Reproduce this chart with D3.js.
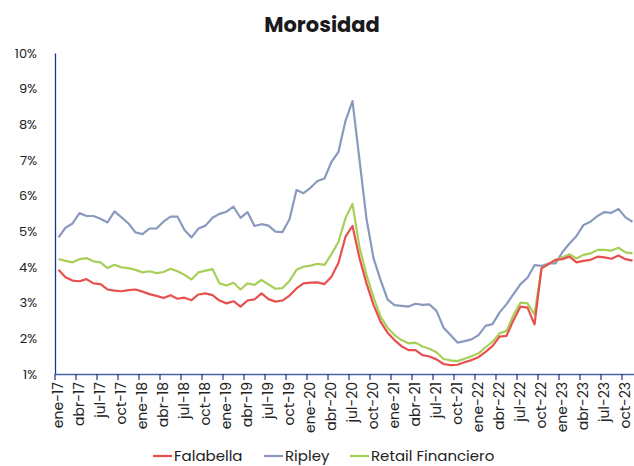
<!DOCTYPE html>
<html lang="es">
<head>
  <meta charset="UTF-8">
  <title>Morosidad</title>
  <script src="https://d3js.org/d3.v7.min.js"></script>
  <style>
    body {
      margin: 0;
      background: #fff;
      font-family: "Poppins", "Open Sans", sans-serif;
    }
    svg { display: block; }
    .line { fill: none; stroke-width: 2.2; stroke-linejoin: round; }
  </style>
</head>
<body>
  <svg id="chart"></svg>
  <script>
    const monthNames = ["ene", "feb", "mar", "abr", "may", "jun", "jul", "ago", "sep", "oct", "nov", "dic"];
    const years = ["17", "18", "19", "20", "21", "22", "23"];
    // ene-17 .. nov-23
    const months = years.flatMap(y => monthNames.map(m => `${m}-${y}`)).slice(0, 83);

    const falabella = [
      3.92, 3.71, 3.62, 3.60, 3.66, 3.54, 3.52, 3.37, 3.34, 3.32, 3.35, 3.37, 3.31, 3.24, 3.19, 3.13, 3.21, 3.11, 3.14, 3.07, 3.23, 3.26,
      3.21, 3.06, 2.98, 3.04, 2.89, 3.06, 3.09, 3.26, 3.10, 3.03, 3.06, 3.20, 3.40, 3.54, 3.56, 3.57, 3.52, 3.73, 4.12, 4.85,
      5.15, 4.25, 3.54, 2.94, 2.47, 2.16, 1.95, 1.78, 1.67, 1.67, 1.53, 1.49, 1.41, 1.28, 1.25, 1.26, 1.33, 1.39, 1.47, 1.62, 1.78,
      2.05, 2.07, 2.51, 2.89, 2.86, 2.39, 3.96, 4.08, 4.20, 4.22, 4.29, 4.13, 4.17, 4.20, 4.29, 4.27, 4.23, 4.32, 4.22, 4.18
    ];
    const ripley = [
      4.83, 5.10, 5.22, 5.51, 5.43, 5.43, 5.35, 5.25, 5.56, 5.39, 5.22, 4.97, 4.92, 5.08, 5.08, 5.27, 5.41, 5.41, 5.04, 4.83, 5.08, 5.16,
      5.38, 5.49, 5.55, 5.69, 5.38, 5.54, 5.15, 5.20, 5.16, 4.99, 4.98, 5.34, 6.16, 6.07, 6.22, 6.41, 6.48, 6.95, 7.23, 8.10,
      8.65, 7.00, 5.35, 4.25, 3.64, 3.09, 2.93, 2.91, 2.89, 2.97, 2.94, 2.95, 2.77, 2.30, 2.09, 1.88, 1.92, 1.97, 2.09, 2.35, 2.40,
      2.72, 2.96, 3.24, 3.52, 3.70, 4.05, 4.03, 4.10, 4.10, 4.42, 4.66, 4.87, 5.18, 5.27, 5.43, 5.54, 5.52, 5.63, 5.39, 5.27
    ];
    const retail = [
      4.22, 4.17, 4.13, 4.22, 4.25, 4.16, 4.13, 3.97, 4.06, 3.99, 3.97, 3.92, 3.85, 3.88, 3.83, 3.86, 3.95, 3.88, 3.78, 3.65, 3.85, 3.90,
      3.94, 3.54, 3.48, 3.56, 3.37, 3.54, 3.50, 3.64, 3.51, 3.39, 3.41, 3.61, 3.92, 4.01, 4.04, 4.09, 4.06, 4.36, 4.71, 5.37,
      5.77, 4.55, 3.78, 3.15, 2.61, 2.30, 2.09, 1.95, 1.86, 1.88, 1.77, 1.71, 1.61, 1.42, 1.38, 1.36, 1.43, 1.50, 1.58, 1.75, 1.90,
      2.14, 2.21, 2.65, 3.00, 2.98, 2.67, 3.96, 4.08, 4.20, 4.27, 4.36, 4.24, 4.34, 4.38, 4.48, 4.48, 4.46, 4.54, 4.41, 4.38
    ];
    const yTicks = [1, 2, 3, 4, 5, 6, 7, 8, 9, 10];

    const series = [
      { name: "Falabella", values: falabella, color: "#e8504e" },
      { name: "Ripley", values: ripley, color: "#8a9abf" },
      { name: "Retail Financiero", values: retail, color: "#a8cf5a" }
    ];

    const width = 634;
    const height = 466;
    const margin = { top: 53, right: -2, bottom: 92, left: 55 };

    const svg = d3.select("#chart")
      .attr("width", width)
      .attr("height", height);

    const x = d3.scaleBand()
      .domain(months)
      .range([margin.left, width - margin.right]);

    const y = d3.scaleLinear()
      .domain([1, 10])
      .range([height - margin.bottom, margin.top]);

    // title
    svg.append("text")
      .attr("x", 322)
      .attr("y", 32)
      .attr("text-anchor", "middle")
      .style("font-size", "21px")
      .style("font-weight", "700")
      .style("fill", "#1a1a1a")
      .text("Morosidad");

    // y axis
    const yAxis = d3.axisLeft(y)
      .tickValues(yTicks)
      .tickSize(0)
      .tickPadding(18)
      .tickFormat(d => `${d}%`);

    const gy = svg.append("g")
      .attr("transform", `translate(${margin.left},0)`)
      .call(yAxis);
    gy.select(".domain").attr("stroke", "#1c3584").attr("stroke-width", 1.3);
    gy.selectAll("text")
      .style("font-size", "13px")
      .style("fill", "#222")
      .style("font-family", "\"Poppins\", \"Open Sans\", sans-serif");

    // x axis: labels at category centers, ticks between categories every 3 months
    const quarterly = months.filter((_, i) => i % 3 === 0);

    const xAxis = d3.axisBottom(x)
      .tickValues(quarterly)
      .tickSize(0)
      .tickPadding(0);

    const gx = svg.append("g")
      .attr("transform", `translate(0,${y(1)})`)
      .call(xAxis);
    gx.select(".domain").attr("stroke", "#4563a6").attr("stroke-width", 1.3);
    gx.selectAll("text")
      .attr("transform", "rotate(-90)")
      .attr("x", -8)
      .attr("y", 0)
      .attr("dy", "0.33em")
      .style("text-anchor", "end")
      .style("font-size", "14px")
      .style("fill", "#222")
      .style("font-family", "\"Poppins\", \"Open Sans\", sans-serif");

    svg.append("g")
      .selectAll("line")
      .data(quarterly)
      .join("line")
      .attr("x1", d => x(d))
      .attr("x2", d => x(d))
      .attr("y1", y(1))
      .attr("y2", y(1) + 6)
      .attr("stroke", "#1c3584")
      .attr("stroke-width", 1.2);

    // lines
    const line = d3.line()
      .x((_, i) => x(months[i]) + x.bandwidth() / 2)
      .y(d => y(d));

    // draw Ripley first, then green, then red on top
    [series[1], series[2], series[0]].forEach(s => {
      svg.append("path")
        .datum(s.values)
        .attr("class", "line")
        .attr("stroke", s.color)
        .attr("d", line);
    });

    // legend
    const legendItems = [
      { s: series[0], x: 153 },
      { s: series[1], x: 264 },
      { s: series[2], x: 350 }
    ];
    const lg = svg.append("g").attr("transform", "translate(0,456)");
    legendItems.forEach(item => {
      lg.append("line")
        .attr("x1", item.x)
        .attr("x2", item.x + 19)
        .attr("stroke", item.s.color)
        .attr("stroke-width", 2.2);
      lg.append("text")
        .attr("x", item.x + 21)
        .attr("dy", "0.35em")
        .style("font-size", "15px")
        .style("fill", "#222")
        .text(item.s.name);
    });
  </script>
</body>
</html>
